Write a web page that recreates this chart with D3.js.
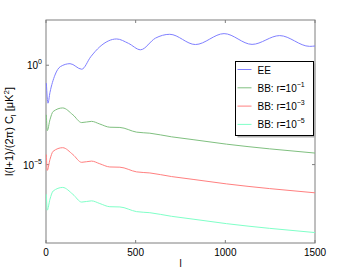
<!DOCTYPE html>
<html>
<head>
<meta charset="utf-8">
<script src="https://cdn.jsdelivr.net/npm/d3@7"></script>
<style>
  body { margin: 0; background: #fff; }
  text { font-family: "Liberation Sans", Arial, sans-serif; fill: #000; }
</style>
</head>
<body>
<div id="chart"></div>
<script>
// multipole l and l(l+1)/(2pi) C_l values
var eeL   = [2, 11, 22, 50, 80, 134, 199, 250, 300, 394, 460, 527, 610, 690, 833, 993, 1149, 1303, 1470, 1500];
var eeVal = [0.126, 0.0123, 0.042, 0.32, 0.85, 1.2, 0.63, 2.7, 8.5, 21, 12.6, 6.0, 23, 36, 11, 39, 11.2, 31, 8.9, 9.3];

var bbL = [2, 7, 22, 40, 93, 150, 199, 254, 300, 356, 412, 505, 579, 700, 820, 1006, 1247, 1500];
var bb1 = [3.2e-3, 5.1e-4, 1.8e-3, 4.7e-3, 7.1e-3, 3.2e-3, 1.3e-3, 1.5e-3, 1.1e-3, 7.6e-4, 7.4e-4, 4.3e-4, 3.8e-4, 2.5e-4, 1.8e-4, 1.07e-4, 6.2e-5, 3.8e-5];
var bb3 = [3.2e-5, 5.1e-6, 1.8e-5, 4.7e-5, 7.1e-5, 3.2e-5, 1.3e-5, 1.5e-5, 1.1e-5, 7.6e-6, 7.4e-6, 4.3e-6, 3.8e-6, 2.5e-6, 1.8e-6, 1.07e-6, 6.2e-7, 3.8e-7];
var bb5 = [3.2e-7, 5.1e-8, 1.8e-7, 4.7e-7, 7.1e-7, 3.2e-7, 1.3e-7, 1.5e-7, 1.1e-7, 7.6e-8, 7.4e-8, 4.3e-8, 3.8e-8, 2.5e-8, 1.8e-8, 1.07e-8, 6.2e-9, 3.8e-9];

var xTicks = [0, 500, 1000, 1500];
var yTicks = [0, -5]; // exponents
var seriesNames = ["EE", "BB: r=10", "BB: r=10", "BB: r=10"];
var seriesExp = [null, "\u22121", "\u22123", "\u22125"];
var colors = ["#8080ff", "#80c080", "#ff8080", "#80ffc8"];

var margin = {top: 20, right: 34, bottom: 32, left: 46},
    width = 349 - margin.left - margin.right,
    height = 275 - margin.top - margin.bottom;

var svg = d3.select("#chart")
  .append("svg")
    .attr("width", 349)
    .attr("height", 275)
  .append("g")
    .attr("transform", "translate(" + margin.left + "," + margin.top + ")");

var x = d3.scaleLinear().domain([0, 1500]).range([0, width]);
var y = d3.scaleLog().domain([Math.pow(10, -8.945), Math.pow(10, 2.276)]).range([height, 0]);

var axisColor = "#7f7f7f";

// box
svg.append("rect")
  .attr("width", width).attr("height", height)
  .attr("fill", "none").attr("stroke", axisColor).attr("stroke-width", 1);

// x ticks (inward, bottom and top)
xTicks.forEach(function(t) {
  svg.append("line").attr("x1", x(t)).attr("x2", x(t)).attr("y1", height).attr("y2", height - 3).attr("stroke", axisColor);
  svg.append("line").attr("x1", x(t)).attr("x2", x(t)).attr("y1", 0).attr("y2", 3).attr("stroke", axisColor);
  svg.append("text").attr("x", x(t)).attr("y", height + 13)
    .attr("text-anchor", "middle").attr("font-size", 10).text(t);
});

// y ticks
yTicks.forEach(function(e) {
  var yy = y(Math.pow(10, e));
  svg.append("line").attr("x1", 0).attr("x2", 3).attr("y1", yy).attr("y2", yy).attr("stroke", axisColor);
  svg.append("line").attr("x1", width).attr("x2", width - 3).attr("y1", yy).attr("y2", yy).attr("stroke", axisColor);
  var t = svg.append("text").attr("x", -4).attr("y", yy + 4).attr("text-anchor", "end").attr("font-size", 10);
  t.append("tspan").text("10");
  t.append("tspan").attr("dy", -5).attr("font-size", 7).text(e === 0 ? "0" : "\u22125");
});

// axis labels
svg.append("text").attr("x", width / 2).attr("y", height + 24)
  .attr("text-anchor", "middle").attr("font-size", 10).text("l");

var yl = svg.append("text")
  .attr("transform", "translate(" + (-33) + "," + (height / 2) + ") rotate(-90)")
  .attr("text-anchor", "middle").attr("font-size", 11);
yl.append("tspan").text("l(l+1)/(2\u03c0) C");
yl.append("tspan").attr("dy", 3).attr("font-size", 8).text("l");
yl.append("tspan").attr("dy", -3).text(" [\u03bcK");
yl.append("tspan").attr("dy", -4).attr("font-size", 8).text("2");
yl.append("tspan").attr("dy", 4).text("]");

// curves
var line = d3.line()
  .curve(d3.curveMonotoneX)
  .x(function(d) { return x(d[0]); })
  .y(function(d) { return y(d[1]); });

var series = [
  d3.zip(eeL, eeVal),
  d3.zip(bbL, bb1),
  d3.zip(bbL, bb3),
  d3.zip(bbL, bb5)
];

svg.selectAll(".curve")
  .data(series)
  .enter()
  .append("path")
    .attr("class", "curve")
    .attr("fill", "none")
    .attr("stroke", function(d, i) { return colors[i]; })
    .attr("stroke-width", 1)
    .attr("d", line);

// legend
var lg = svg.append("g").attr("transform", "translate(" + (235.5 - margin.left) + "," + (61.5 - margin.top) + ")");
var lw = 78, lh = 74;
lg.append("rect").attr("x", 2).attr("y", 2).attr("width", lw).attr("height", lh).attr("fill", "#b0b0b0");
lg.append("rect").attr("width", lw).attr("height", lh).attr("fill", "#fff").attr("stroke", "#000").attr("stroke-width", 1);

seriesNames.forEach(function(name, i) {
  var yy = 8 + i * 18.3;
  lg.append("line").attr("x1", 2).attr("x2", 16).attr("y1", yy).attr("y2", yy)
    .attr("stroke", colors[i]).attr("stroke-width", 1);
  var t = lg.append("text").attr("x", 22).attr("y", yy + 4).attr("font-size", 10);
  t.append("tspan").text(name);
  if (seriesExp[i]) t.append("tspan").attr("dy", -5).attr("font-size", 7).text(seriesExp[i]);
});
</script>
</body>
</html>
